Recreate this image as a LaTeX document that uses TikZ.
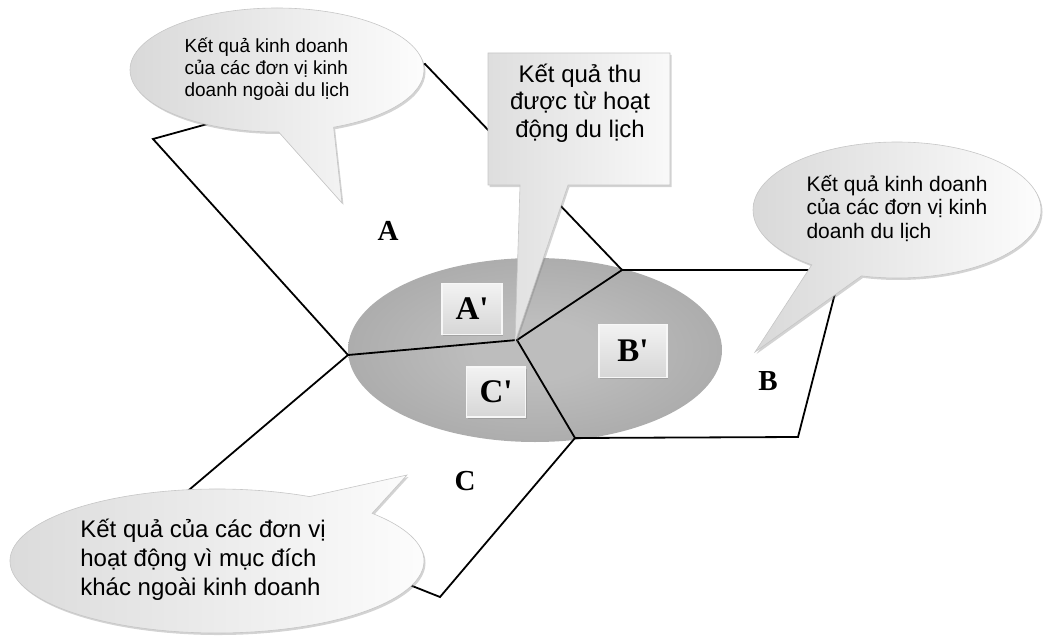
\documentclass[tikz,border=0pt]{standalone}
\usepackage{fontspec}
\setmainfont{Liberation Sans}
\newfontfamily\labfont{Liberation Serif}
\usetikzlibrary{shapes.callouts,shapes.geometric,shadows}
\definecolor{ellin}{HTML}{BDBDBD}
\definecolor{ellmid}{HTML}{A8A8A8}
\definecolor{ellout}{HTML}{8C8C8C}
\pgfdeclareradialshading{ellshade}{\pgfpoint{0bp}{0bp}}{%
  color(0bp)=(ellin); color(8bp)=(ellin); color(30bp)=(ellmid);
  color(50bp)=(ellout); color(60bp)=(ellout)}
\tikzset{
  bubble/.style={ellipse callout, draw=gray!45, line width=0.6pt,
    left color=gray!30, middle color=gray!9, right color=gray!2,
    callout pointer arc=22, inner sep=0pt, align=left,
    drop shadow={shadow xshift=1.5pt, shadow yshift=-2pt, opacity=0.35}},
  edge/.style={line width=1.8pt, black},
  region/.style={font=\labfont\bfseries\fontsize{29}{32}\selectfont},
  tag/.style={top color=gray!10, bottom color=gray!32, draw=gray!6,
    line width=1.5pt, inner sep=0pt,
    font=\labfont\bfseries\fontsize{33}{36}\selectfont,
    drop shadow={shadow xshift=1.2pt, shadow yshift=-1.5pt, opacity=0.4}},
}
\begin{document}
\begin{tikzpicture}[x=1pt,y=-1pt]
\useasboundingbox (0,0) rectangle (1043,639);

% central ellipse
\node[ellipse, minimum width=374pt, minimum height=184pt, inner sep=0pt,
      shading=ellshade] (E) at (535,350) {};

% junction points
\coordinate (O) at (517,340);
\coordinate (L) at (348,355);
\coordinate (U) at (622,270);
\coordinate (D) at (575,438);
\coordinate (A1) at (153,139);
\coordinate (A2) at (425,64);
\coordinate (B1) at (841,270);
\coordinate (B2) at (798,437);
\coordinate (C1) at (183,495);
\coordinate (C2) at (440,597);

\draw[edge] (O) -- (L);
\draw[edge] (O) -- (U);
\draw[edge] (O) -- (D);
\draw[edge, line join=miter] (L) -- (A1) -- (A2) -- (U);
\draw[edge, line join=miter] (U) -- (B1) -- (B2) -- (D);
\draw[edge, line join=miter] (L) -- (C1) -- (C2) -- (D);

% region labels
\node[region] (lA) at (388,231) {A};
\node[region] (lB) at (768,381) {B};
\node[region] (lC) at (465,481) {C};

% inner tags
\node[tag, minimum width=60pt, minimum height=51pt] (tA) at (472,309) {A'};
\node[tag, minimum width=68pt, minimum height=53pt] (tB) at (633,351) {B'};
\node[tag, minimum width=59pt, minimum height=50pt] (tC) at (496,392) {C'};

% rectangular callout
\path[draw=gray!45, line width=0.6pt, left color=gray!26, middle color=gray!12,
      right color=gray!5,
      drop shadow={shadow xshift=1.5pt, shadow yshift=-2pt, opacity=0.35}]
  (488,53) -- (670,53) -- (670,185) -- (568,185) -- (515,342) -- (520,185)
  -- (488,185) -- cycle;
\node[align=center, font=\fontsize{24}{27.5}\selectfont] (T) at (580,103)
  {Kết quả thu\\được từ hoạt\\động du lịch};

% ellipse callouts
\node[bubble, minimum width=294pt, minimum height=124pt,
      font=\fontsize{19}{22}\selectfont,
      callout absolute pointer={(342,203)}] (b1) at (277,70)
  {\begin{tabular}{@{}l@{\hspace{20pt}}}Kết quả kinh doanh\\của các đơn vị kinh\\doanh ngoài du lịch\end{tabular}};

\node[bubble, minimum width=288pt, minimum height=136pt,
      font=\fontsize{21}{23.5}\selectfont,
      callout absolute pointer={(755,352)}] (b2) at (897,210)
  {\begin{tabular}{@{}l@{}}Kết quả kinh doanh\\của các đơn vị kinh\\doanh du lịch\end{tabular}};

\node[bubble, minimum width=414pt, minimum height=144pt,
      font=\fontsize{24}{29}\selectfont,
      callout absolute pointer={(407,475)}] (b3) at (217,561)
  {\begin{tabular}{@{}l@{\hspace{28pt}}}Kết quả của các đơn vị\\hoạt động vì mục đích\\khác ngoài kinh doanh\end{tabular}};
\end{tikzpicture}
\end{document}
